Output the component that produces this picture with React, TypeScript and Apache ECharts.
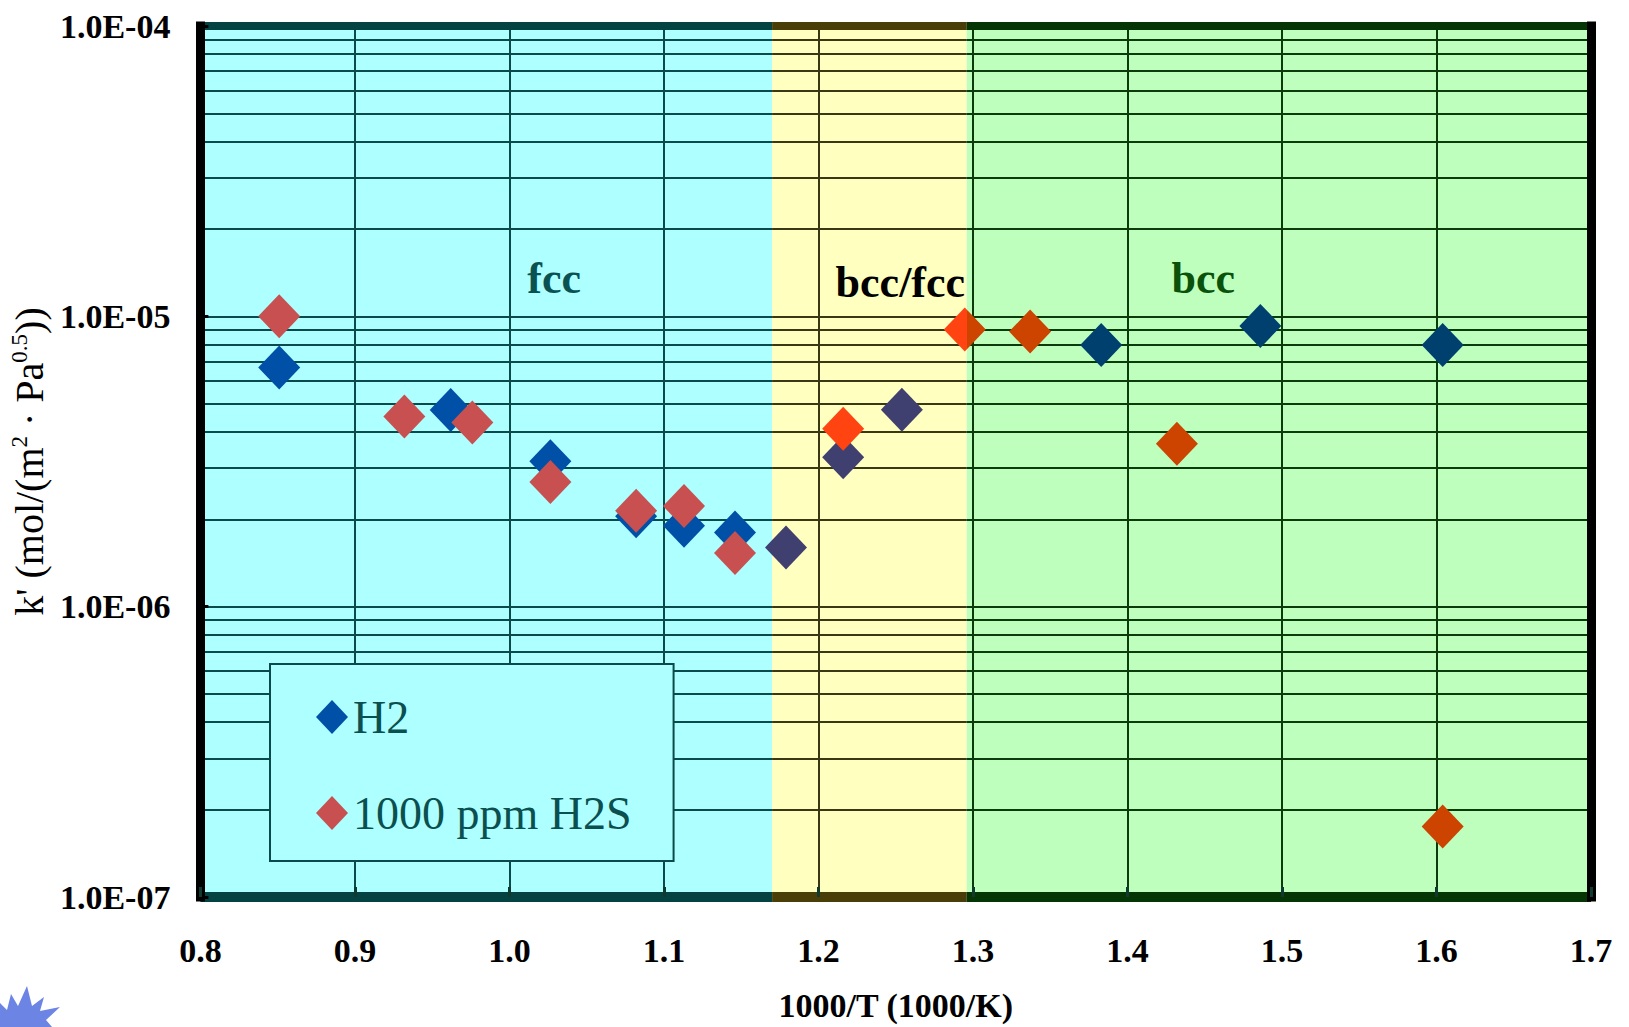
import React, { useEffect, useRef } from 'react';
import * as echarts from 'echarts';

// ---------- data ----------
const seriesNames = ['H2', '1000 ppm H2S'];
const h2X = [0.851, 0.962, 1.0265, 1.082, 1.113, 1.146, 1.179, 1.216, 1.254, 1.383, 1.486, 1.604];
const h2Y = [6.67e-6, 4.76e-6, 3.17e-6, 2.05e-6, 1.9e-6, 1.8e-6, 1.6e-6, 3.27e-6, 4.77e-6, 7.97e-6, 9.27e-6, 7.97e-6];
const h2sX = [0.851, 0.932, 0.976, 1.0265, 1.082, 1.113, 1.146, 1.216, 1.2947, 1.337, 1.432, 1.604];
const h2sY = [1.0e-5, 4.52e-6, 4.31e-6, 2.69e-6, 2.14e-6, 2.22e-6, 1.53e-6, 4.1e-6, 9.0e-6, 8.86e-6, 3.64e-6, 1.75e-7];

const phaseNames = ['fcc', 'bcc/fcc', 'bcc'];
const phaseBounds = [0.8, 1.17, 1.296, 1.7];
const phaseLabelX = [1.029, 1.253, 1.449];
const phaseLabelY = [1.349e-5, 1.306e-5, 1.349e-5];

const xTickValues = [0.8, 0.9, 1.0, 1.1, 1.2, 1.3, 1.4, 1.5, 1.6, 1.7];
const yDecades = [1e-7, 1e-6, 1e-5, 1e-4];
const yMultipliers = [1, 2, 3, 4, 5, 6, 7, 8, 9];
const xName = '1000/T (1000/K)';

// ---------- styles ----------
const SERIF = '"Liberation Serif", "Times New Roman", serif';
const phaseFill = ['#AEFFFF', '#FFFFC0', '#BEFFBE'];
const phaseLine = ['#0B4A4A', '#3A3814', '#0B3A0B'];
const phaseBorder = ['#054242', '#4A3E08', '#053405'];
const phaseText = ['#0A5252', '#000000', '#0A520A'];
const h2Colors = ['#0050A8', '#404070', '#00406E'];
const h2sColors = ['#C85050', '#FF4412', '#CC4400'];
const SYMBOL_W = 42;
const SYMBOL_H = 44;

function regionOf(x: number): number {
  for (let i = 0; i < phaseBounds.length - 2; i++) {
    if (x < phaseBounds[i + 1]) return i;
  }
  return phaseBounds.length - 2;
}

function pointColor(x: number, colors: string[]): any {
  const hw = 0.0135;
  for (let i = 1; i < phaseBounds.length - 1; i++) {
    const b = phaseBounds[i];
    if (Math.abs(x - b) < hw * 0.4) {
      const f = (b - (x - hw)) / (2 * hw);
      const l = colors[i - 1];
      const r = colors[i];
      return new echarts.graphic.LinearGradient(0, 0, 1, 0, [
        { offset: 0, color: l },
        { offset: f, color: l },
        { offset: f, color: r },
        { offset: 1, color: r },
      ]);
    }
  }
  return colors[regionOf(x)];
}

function buildPoints(xs: number[], ys: number[], colors: string[]) {
  return xs.map((x, i) => ({ value: [x, ys[i]], itemStyle: { color: pointColor(x, colors) } }));
}

function yLineValues(): number[] {
  const vals: number[] = [];
  for (let d = 0; d < yDecades.length - 1; d++) {
    for (const m of yMultipliers) vals.push(m * yDecades[d]);
  }
  vals.push(yDecades[yDecades.length - 1]);
  return vals;
}

function buildGridLines() {
  const yMin = yDecades[0];
  const yMax = yDecades[yDecades.length - 1];
  const data: any[] = [];
  // vertical lines
  xTickValues.slice(1, -1).forEach((x) => {
    data.push([
      { coord: [x, yMin], lineStyle: { color: phaseLine[regionOf(x)], width: 2, type: 'solid' } },
      { coord: [x, yMax] },
    ]);
  });
  // horizontal lines, split by phase region
  yLineValues().forEach((y) => {
    const isBorder = y === yMin || y === yMax;
    if (isBorder) return;
    for (let i = 0; i < phaseBounds.length - 1; i++) {
      data.push([
        { coord: [phaseBounds[i], y], lineStyle: { color: phaseLine[i], width: 2, type: 'solid' } },
        { coord: [phaseBounds[i + 1], y] },
      ]);
    }
  });
  // top and bottom borders
  [yMin, yMax].forEach((y) => {
    for (let i = 0; i < phaseBounds.length - 1; i++) {
      data.push([
        { coord: [phaseBounds[i], y], lineStyle: { color: phaseBorder[i], width: y === yMin ? 10 : 8, type: 'solid' } },
        { coord: [phaseBounds[i + 1], y] },
      ]);
    }
  });
  // left and right borders
  [phaseBounds[0], phaseBounds[phaseBounds.length - 1]].forEach((x) => {
    data.push([
      { coord: [x, yMin], lineStyle: { color: '#000000', width: 9, type: 'solid', cap: 'square' } },
      { coord: [x, yMax] },
    ]);
  });
  return data;
}

export default function App() {
  const ref = useRef<HTMLDivElement>(null);

  useEffect(() => {
    if (!ref.current) return;
    const chart = echarts.init(ref.current, null, { renderer: 'svg' });

    const option: any = {
      animation: false,
      backgroundColor: '#ffffff',
      grid: { left: 194, top: 26, right: 38, bottom: 129, containLabel: false },
      xAxis: {
        type: 'value',
        min: 0.8,
        max: 1.7,
        interval: 0.1,
        z: 4,
        name: xName,
        nameLocation: 'middle',
        nameGap: 91,
        nameTextStyle: { fontFamily: SERIF, fontSize: 34, fontWeight: 'bold', color: '#000' },
        axisLine: { show: false },
        axisTick: { show: true, inside: true, length: 10, lineStyle: { width: 3, color: '#103A30' } },
        splitLine: { show: false },
        axisLabel: {
          margin: 36,
          fontFamily: SERIF,
          fontSize: 34,
          fontWeight: 'bold',
          color: '#000',
          formatter: (v: number) => v.toFixed(1),
        },
      },
      yAxis: {
        type: 'log',
        logBase: 10,
        min: yDecades[0],
        max: yDecades[yDecades.length - 1],
        z: 4,
        name: "{t|k' (mol/(m}{s|2}{t| · Pa}{s|0.5}{t|))}",
        nameLocation: 'middle',
        nameGap: 136,
        nameTextStyle: {
          rich: {
            t: { fontFamily: SERIF, fontSize: 40, color: '#000', lineHeight: 42 },
            s: { fontFamily: SERIF, fontSize: 23, color: '#000', lineHeight: 42, verticalAlign: 'top' },
          },
        },
        axisLine: { show: false },
        axisTick: { show: true, inside: true, length: 8, lineStyle: { width: 3, color: '#000' } },
        splitLine: { show: false },
        minorTick: { show: false },
        axisLabel: {
          margin: 30,
          fontFamily: SERIF,
          fontSize: 34,
          fontWeight: 'bold',
          color: '#000',
          formatter: (v: number) => {
            const e = Math.round(Math.log10(v));
            return '1.0E' + (e < 0 ? '-' : '+') + String(Math.abs(e)).padStart(2, '0');
          },
        },
      },
      legend: {
        data: seriesNames,
        orient: 'vertical',
        left: 270,
        top: 664,
        padding: [30, 42, 25, 46],
        itemGap: 50,
        itemWidth: 32,
        itemHeight: 34,
        icon: 'diamond',
        selectedMode: false,
        backgroundColor: phaseFill[0],
        borderColor: phaseLine[0],
        borderWidth: 2,
        borderRadius: 0,
        textStyle: { fontFamily: SERIF, fontSize: 46, color: '#0B4F4F' },
      },
      series: [
        {
          name: 'phases',
          type: 'scatter',
          data: [],
          silent: true,
          z: 1,
          clip: false,
          markArea: {
            silent: true,
            z: 1,
            data: phaseNames.map((_, i) => [
              { xAxis: phaseBounds[i], itemStyle: { color: phaseFill[i], opacity: 1 } },
              { xAxis: phaseBounds[i + 1] },
            ]),
          },
        },
        {
          name: 'gridlines',
          type: 'scatter',
          data: [],
          silent: true,
          z: 2,
          clip: false,
          markLine: {
            silent: true,
            z: 2,
            symbol: ['none', 'none'],
            label: { show: false },
            animation: false,
            data: buildGridLines(),
          },
        },
        {
          name: seriesNames[0],
          type: 'scatter',
          symbol: 'diamond',
          symbolSize: [SYMBOL_W, SYMBOL_H],
          z: 3,
          clip: false,
          itemStyle: { color: h2Colors[0], opacity: 1 },
          data: buildPoints(h2X, h2Y, h2Colors),
        },
        {
          name: seriesNames[1],
          type: 'scatter',
          symbol: 'diamond',
          symbolSize: [SYMBOL_W, SYMBOL_H],
          z: 3,
          clip: false,
          itemStyle: { color: h2sColors[0], opacity: 1 },
          data: buildPoints(h2sX, h2sY, h2sColors),
        },
      ],
    };

    chart.setOption(option);

    const labels = phaseNames.map((name, i) => {
      const p = chart.convertToPixel({ gridIndex: 0 }, [phaseLabelX[i], phaseLabelY[i]]) as number[];
      return {
        type: 'text',
        x: p[0],
        y: p[1],
        z: 5,
        silent: true,
        style: {
          text: name,
          fill: phaseText[i],
          fontFamily: SERIF,
          fontSize: 44,
          fontWeight: 'bold',
          align: 'center',
          verticalAlign: 'middle',
          textAlign: 'center',
          textVerticalAlign: 'middle',
        },
      };
    });

    chart.setOption({
      graphic: [
        ...labels,
        {
          type: 'polygon',
          silent: true,
          z: 5,
          shape: {
            points: [
              [0, 1027], [0, 1003], [7, 1010], [11, 994], [18, 1006], [27, 986], [32, 1006],
              [44, 997], [40, 1011], [60, 1007], [46, 1020], [52, 1027],
            ],
          },
          style: { fill: '#6C84E4' },
        },
      ],
    });

    return () => chart.dispose();
  }, []);

  return (
    <div
      ref={ref}
      style={{ position: 'fixed', left: 0, top: 0, width: 1629, height: 1027, background: '#ffffff' }}
    />
  );
}
